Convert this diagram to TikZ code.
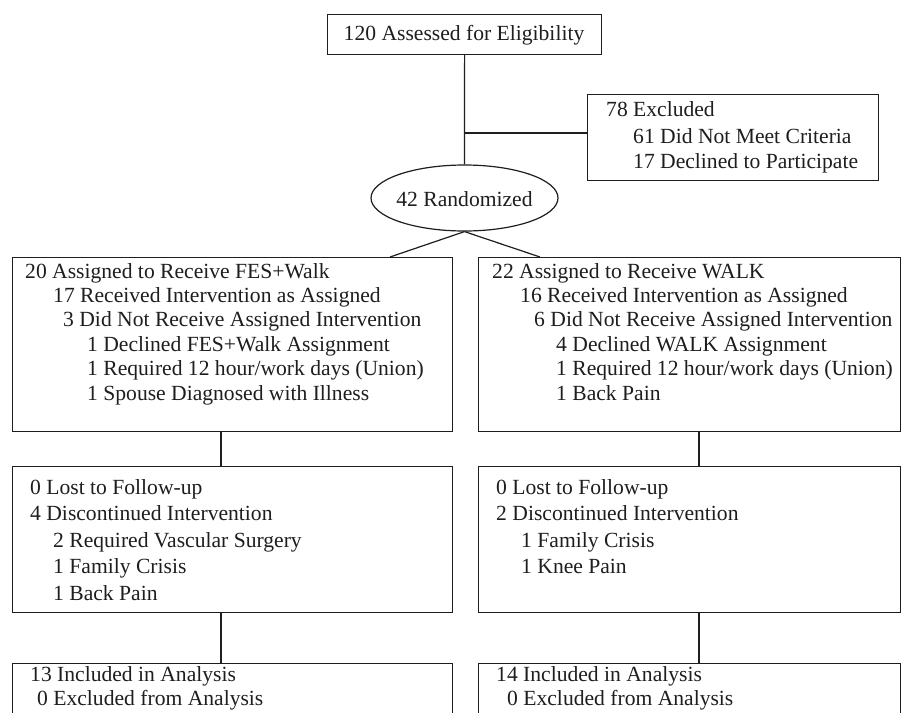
\documentclass[tikz,border=0pt]{standalone}
\usepackage{fontspec}
\setmainfont{Liberation Serif}
\usetikzlibrary{shapes.geometric}
\definecolor{ink}{HTML}{1E1E1E}
\begin{document}
\begin{tikzpicture}[x=1pt,y=-1pt,
  box/.style={draw=ink,line width=1.2pt,rectangle,inner sep=0pt,anchor=north west},
  txt/.style={inner sep=0pt,anchor=base west,text=ink,font=\fontsize{21.6}{26}\selectfont},
  conn/.style={draw=ink,line width=1.2pt}]
\clip (0,0) rectangle (904,712);
\fill[white] (0,0) rectangle (904,712);
% top
\node[box,minimum width=274pt,minimum height=40pt] (top) at (327,14) {};
\node[txt,anchor=center] (toptxt) at (464,35) {120 Assessed for Eligibility};
% excluded
\node[box,minimum width=291pt,minimum height=86pt] (excl) at (587,94) {};
\node[txt] (e1) at (606,116) {78 Excluded};
\node[txt] (e2) at (633,143) {61 Did Not Meet Criteria};
\node[txt] (e3) at (633,168) {17 Declined to Participate};
% randomized
\node[draw=ink,line width=1.2pt,ellipse,minimum width=187pt,minimum height=66pt,inner sep=0pt] (rand) at (464.5,198) {};
\node[txt,anchor=center] (randtxt) at (464.5,199) {42 Randomized};
% row 1
\node[box,minimum width=440pt,minimum height=174pt] (l1) at (12,257) {};
\node[box,minimum width=422pt,minimum height=174pt] (r1) at (478,257) {};
\node[txt] (l1a) at (25,278) {20 Assigned to Receive FES+Walk};
\node[txt] (l1b) at (53,302.4) {17 Received Intervention as Assigned};
\node[txt] (l1c) at (63,326.8) {3 Did Not Receive Assigned Intervention};
\node[txt] (l1d) at (87,351.2) {1 Declined FES+Walk Assignment};
\node[txt] (l1e) at (87,375.6) {1 Required 12 hour/work days (Union)};
\node[txt] (l1f) at (87,400) {1 Spouse Diagnosed with Illness};
\node[txt] (r1a) at (492,278) {22 Assigned to Receive WALK};
\node[txt] (r1b) at (520,302.4) {16 Received Intervention as Assigned};
\node[txt] (r1c) at (534,326.8) {6 Did Not Receive Assigned Intervention};
\node[txt] (r1d) at (556,351.2) {4 Declined WALK Assignment};
\node[txt] (r1e) at (556,375.6) {1 Required 12 hour/work days (Union)};
\node[txt] (r1f) at (556,400) {1 Back Pain};
% row 2
\node[box,minimum width=440pt,minimum height=146pt] (l2) at (12,466) {};
\node[box,minimum width=422pt,minimum height=146pt] (r2) at (478,466) {};
\node[txt] (l2a) at (30,494) {0 Lost to Follow-up};
\node[txt] (l2b) at (30,520.5) {4 Discontinued Intervention};
\node[txt] (l2c) at (53,547) {2 Required Vascular Surgery};
\node[txt] (l2d) at (53,573.5) {1 Family Crisis};
\node[txt] (l2e) at (53,600) {1 Back Pain};
\node[txt] (r2a) at (496,494) {0 Lost to Follow-up};
\node[txt] (r2b) at (496,520.5) {2 Discontinued Intervention};
\node[txt] (r2c) at (521,547) {1 Family Crisis};
\node[txt] (r2d) at (521,573.5) {1 Knee Pain};
% row 3
\node[box,minimum width=440pt,minimum height=80pt] (l3) at (12,663) {};
\node[box,minimum width=422pt,minimum height=80pt] (r3) at (478,663) {};
\node[txt] (l3a) at (30,681) {13 Included in Analysis};
\node[txt] (l3b) at (37,705) {0 Excluded from Analysis};
\node[txt] (r3a) at (496,681) {14 Included in Analysis};
\node[txt] (r3b) at (507,705) {0 Excluded from Analysis};
% connectors
\coordinate (j) at (464,133);
\coordinate (la) at (390,257);
\coordinate (ra) at (540,257);
\coordinate (cl) at (221,0);
\coordinate (cr) at (699,0);
\draw[conn] (top.south) -- (rand.north);
\draw[conn] (j) -- (j -| excl.west);
\draw[conn] (rand.south) -- (la);
\draw[conn] (rand.south) -- (ra);
\draw[conn] (l1.south -| cl) -- (l2.north -| cl);
\draw[conn] (l2.south -| cl) -- (l3.north -| cl);
\draw[conn] (r1.south -| cr) -- (r2.north -| cr);
\draw[conn] (r2.south -| cr) -- (r3.north -| cr);
\end{tikzpicture}
\end{document}
